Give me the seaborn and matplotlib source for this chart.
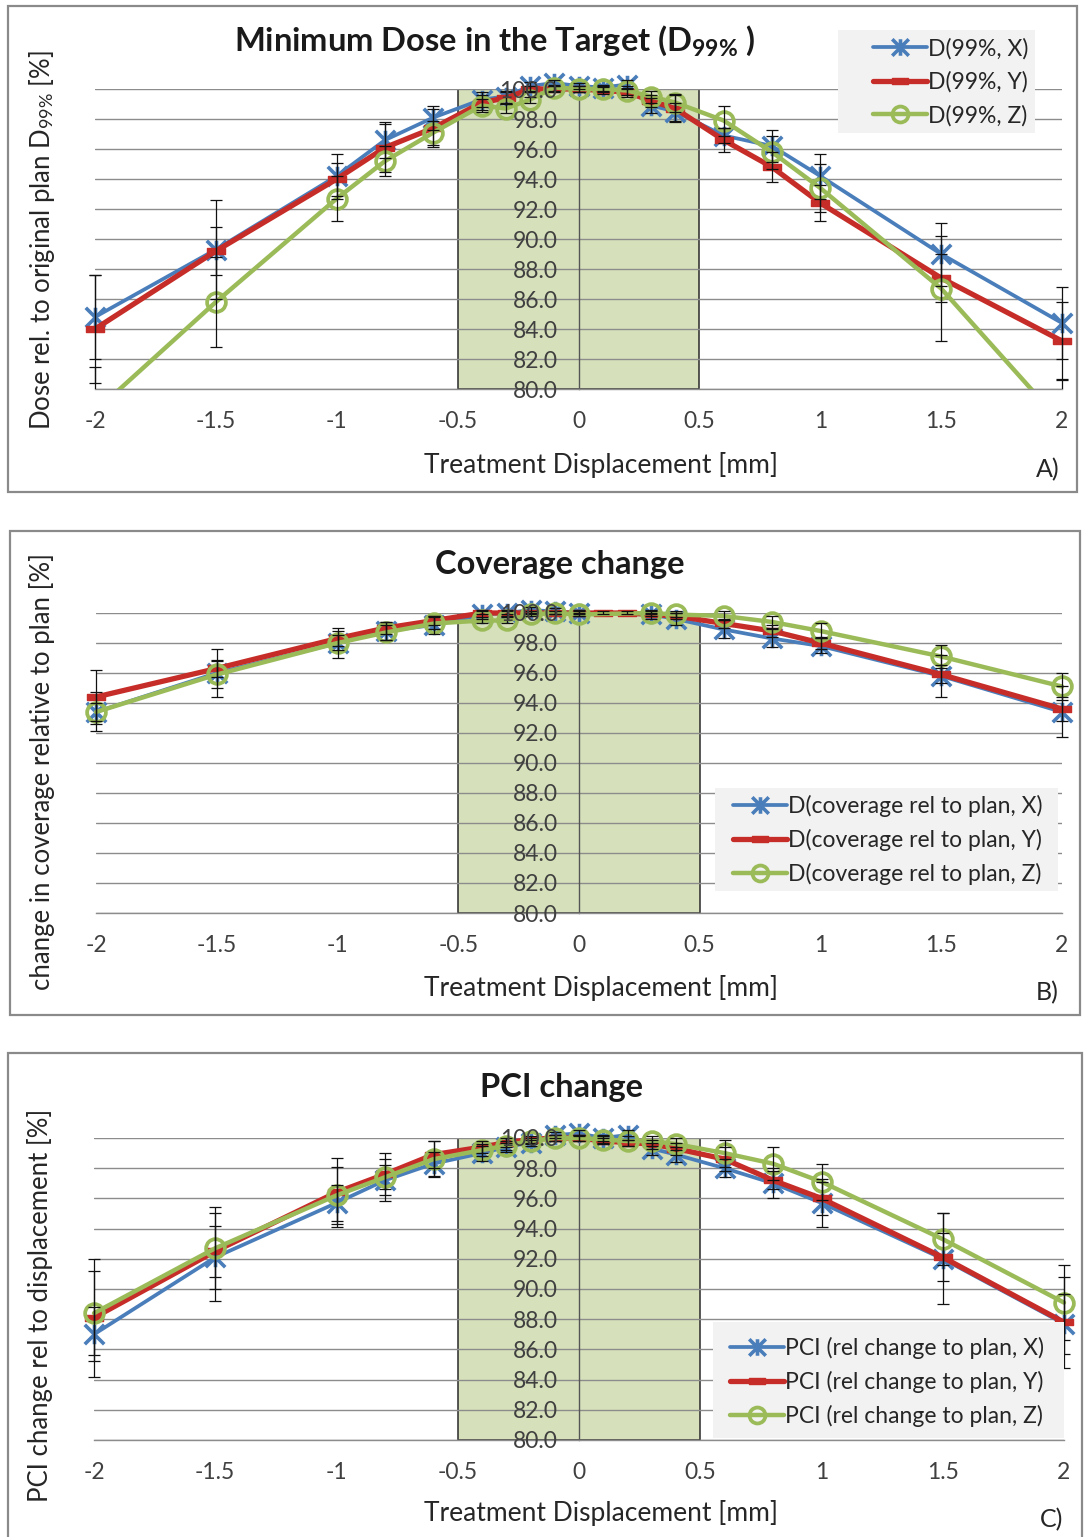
import numpy as np
import pandas as pd
import matplotlib
matplotlib.use("Agg")
import matplotlib.pyplot as plt
import seaborn as sns
from matplotlib.path import Path
from matplotlib.patches import Rectangle
from matplotlib.lines import Line2D
from matplotlib.transforms import offset_copy

# ---------------- data ----------------
displacement = [-2, -1.5, -1, -0.8, -0.6, -0.4, -0.3, -0.2, -0.1, 0, 0.1, 0.2, 0.3, 0.4, 0.6, 0.8, 1, 1.5, 2]
x_ticks = [-2, -1.5, -1, -0.5, 0, 0.5, 1, 1.5, 2]
x_tick_labels = ["-2", "-1.5", "-1", "-0.5", "0", "0.5", "1", "1.5", "2"]
y_ticks = [80, 82, 84, 86, 88, 90, 92, 94, 96, 98, 100]
y_tick_labels = ["80.0", "82.0", "84.0", "86.0", "88.0", "90.0", "92.0", "94.0", "96.0", "98.0", "100.0"]
nan = np.nan

# Panel A: D99%
a_x = [84.8, 89.3, 94.2, 96.6, 98.1, 99.3, 99.5, 100.2, 100.4, 100.2, 100.1, 100.3, 98.9, 98.5, 96.9, 96.2, 94.2, 89.0, 84.4]
a_y = [84.0, 89.2, 94.0, 96.1, 97.4, 99.1, 99.4, 100.0, 100.0, 100.0, 99.9, 99.8, 99.2, 98.7, 96.6, 94.8, 92.4, 87.4, 83.2]
a_z = [78.5, 85.8, 92.7, 95.2, 97.1, 98.9, 98.7, 99.3, 100.1, 100.0, 100.0, 99.9, 99.5, 99.1, 97.9, 95.8, 93.4, 86.7, 77.7]
a_x_err = [2.8, 3.3, 1.5, 1.2, 0.8, 0.5, 0.4, 0.3, 0.2, 0.2, 0.2, 0.3, 0.5, 0.6, 0.5, 1.1, 1.5, 2.1, 2.4]
a_y_err = [3.6, 1.6, 1.1, 1.6, 1.3, 0.5, 0.4, 0.2, 0.2, 0.2, 0.2, 0.3, 0.4, 0.9, 0.8, 1.0, 1.2, 1.6, 2.6]
a_z_err = [3.0, 3.0, 1.5, 1.0, 0.8, 0.4, 0.3, 0.2, 0.2, 0.2, 0.2, 0.3, 0.4, 0.6, 1.0, 1.1, 1.6, 3.5, 3.0]

# Panel B: coverage
b_x = [93.4, 96.0, 98.0, 98.8, 99.2, 99.9, 100.0, 100.2, 100.1, 100.0, nan, nan, 99.9, 99.6, 98.9, 98.3, 97.8, 95.8, 93.4]
b_y = [94.4, 96.3, 98.3, 99.0, 99.5, 100.0, 100.0, 100.0, 100.0, 100.0, 100.0, 100.0, 99.9, 99.8, 99.3, 98.8, 98.0, 95.9, 93.6]
b_z = [93.4, 95.9, 98.0, 98.7, 99.3, 99.5, 99.5, 99.9, 100.0, 99.9, nan, nan, 100.0, 99.9, 99.8, 99.4, 98.8, 97.1, 95.1]
b_x_err = [1.3, 1.6, 1.0, 0.6, 0.6, 0.3, 0.2, 0.2, 0.2, 0.2, nan, nan, 0.3, 0.4, 0.6, 0.6, 0.5, 1.4, 1.7]
b_y_err = [1.8, 0.6, 0.5, 0.4, 0.3, 0.1, 0.1, 0.1, 0.1, 0.1, 0.1, 0.1, 0.1, 0.2, 0.3, 0.4, 0.4, 0.6, 0.8]
b_z_err = [0.6, 0.9, 0.5, 0.5, 0.4, 0.2, 0.2, 0.1, 0.1, 0.1, nan, nan, 0.1, 0.2, 0.3, 0.4, 0.5, 0.8, 0.9]

# Panel C: PCI
c_x = [87.0, 92.1, 95.7, 97.2, 98.3, 99.0, 99.4, 99.7, 100.2, 100.3, 100.0, 100.2, 99.3, 98.9, 98.0, 97.0, 95.7, 92.0, 87.7]
c_y = [88.1, 92.5, 96.4, 97.6, 98.9, 99.4, 99.7, 99.9, 100.0, 100.0, 99.8, 99.7, 99.6, 99.3, 98.6, 97.2, 96.0, 92.1, 87.8]
c_z = [88.4, 92.7, 96.2, 97.4, 98.6, 99.2, 99.5, 99.8, 100.0, 100.0, 99.9, 99.8, 99.8, 99.6, 99.0, 98.3, 97.1, 93.3, 89.1]
c_x_err = [1.8, 2.9, 1.2, 1.0, 0.8, 0.5, 0.3, 0.2, 0.2, 0.2, 0.2, 0.3, 0.4, 0.5, 0.6, 1.0, 1.6, 3.0, 2.0]
c_y_err = [3.9, 1.7, 2.3, 1.0, 0.9, 0.4, 0.3, 0.2, 0.2, 0.2, 0.2, 0.2, 0.3, 0.4, 0.8, 0.6, 1.1, 1.6, 3.0]
c_z_err = [2.8, 2.7, 1.9, 1.6, 1.2, 0.4, 0.3, 0.2, 0.2, 0.2, 0.2, 0.3, 0.3, 0.4, 0.9, 1.1, 1.2, 1.7, 2.5]

titles = ["Minimum Dose in the Target (D$_{\\mathbf{99\\%}}$ )", "Coverage change", "PCI change"]
ylabels = ["Dose rel. to original plan D$_{99\\%}$ [%]",
           "change in coverage relative to plan [%]",
           "PCI change rel to displacement [%]"]
xlabel = "Treatment Displacement [mm]"
legend_labels = [["D(99%, X)", "D(99%, Y)", "D(99%, Z)"],
                 ["D(coverage rel to plan, X)", "D(coverage rel to plan, Y)", "D(coverage rel to plan, Z)"],
                 ["PCI (rel change to plan, X)", "PCI (rel change to plan, Y)", "PCI (rel change to plan, Z)"]]
panel_tags = ["A)", "B)", "C)"]
safe_zone = (-0.5, 0.5)

# ---------------- style ----------------
sns.set_style("white")
plt.rcParams["font.family"] = ["Lato", "DejaVu Sans"]
plt.rcParams["mathtext.fontset"] = "custom"
plt.rcParams["mathtext.rm"] = "Lato"
plt.rcParams["mathtext.it"] = "Lato:italic"
plt.rcParams["mathtext.bf"] = "Lato:bold"

W, H = 1084, 1537
fig = plt.figure(figsize=(W / 100, H / 100), dpi=100)
fig.patch.set_facecolor("white")

def fx(p):
    return p / W

def fy(p):
    return 1 - p / H

BLUE = "#4a7ebb"
RED = "#c62d28"
GREEN = "#9bbb59"
GRID = "#8c8c8c"
TXT = "#404040"

star = Path([(-1, -1), (1, 1), (-1, 1), (1, -1), (0, -1.0), (0, 1.0)],
            [Path.MOVETO, Path.LINETO, Path.MOVETO, Path.LINETO, Path.MOVETO, Path.LINETO])
bar = Path([(-1, -0.38), (1, -0.38), (1, 0.38), (-1, 0.38), (-1, -0.38)],
           [Path.MOVETO, Path.LINETO, Path.LINETO, Path.LINETO, Path.CLOSEPOLY])

series_style = [
    dict(color=BLUE, lw=2.7, marker=star, ms=14, mew=2.6, mfc="none", mec=BLUE, z=3.0),
    dict(color=RED, lw=3.8, marker=bar, ms=13, mew=1.0, mfc=RED, mec=RED, z=3.1),
    dict(color=GREEN, lw=3.2, marker="o", ms=13.5, mew=2.7, mfc="none", mec=GREEN, z=3.2),
]

# (left px, right px, top px (y=100), bottom px (y=80))
panels = [(95, 1062, 89, 389), (96, 1062, 613, 913), (94, 1064, 1138, 1440)]
data_sets = [
    ([a_x, a_y, a_z], [a_x_err, a_y_err, a_z_err]),
    ([b_x, b_y, b_z], [b_x_err, b_y_err, b_z_err]),
    ([c_x, c_y, c_z], [c_x_err, c_y_err, c_z_err]),
]
borders = [(8, 6, 1077, 492), (10, 531, 1080, 1015), (8, 1053, 1082, 1560)]
title_pos = [(495, 41), (560, 565), (561, 1088)]
ylabel_pos = [(42, 240), (42, 772), (40, 1305)]
xlabel_pos = [(601, 465), (601, 988), (601, 1513)]
tag_pos = [(1048, 470), (1047, 993), (1052, 1520)]
# legend background boxes (x0, y0, x1, y1) and handle anchor (x, middle-row y)
legend_boxes = [(838, 30, 1035, 133), (715, 788, 1058, 891), (713, 1322, 1064, 1438)]
legend_anchor = [(873, 82), (733, 840), (730, 1382)]

for i, (l, r, t, b) in enumerate(panels):
    # panel frame
    x0, y0, x1, y1 = borders[i]
    fig.patches.append(Rectangle((fx(x0), fy(y1)), (x1 - x0) / W, (y1 - y0) / H,
                                 transform=fig.transFigure, fill=False,
                                 edgecolor="#8a8a8a", lw=1.6, zorder=0))

    ax = fig.add_axes([fx(l), fy(b), (r - l) / W, (b - t) / H])
    ax.set_facecolor("none")
    ax.set_xlim(-2, 2)
    ax.set_ylim(80, 100)

    ax.add_patch(Rectangle((safe_zone[0], 80), safe_zone[1] - safe_zone[0], 20,
                           facecolor="#d6e1bb", edgecolor="#2a2a2a", lw=1.1, zorder=0.3))

    for sp in ["top", "right"]:
        ax.spines[sp].set_visible(False)
    ax.spines["left"].set_position(("data", 0))
    ax.spines["left"].set_color("#555555")
    ax.spines["left"].set_linewidth(1.0)
    ax.spines["left"].set_zorder(0.6)
    ax.spines["bottom"].set_color(GRID)
    ax.spines["bottom"].set_linewidth(1.0)

    ax.set_yticks(y_ticks)
    ax.set_xticks(x_ticks)
    ax.set_xticklabels(x_tick_labels)
    ax.tick_params(axis="y", length=0, labelleft=False)
    ax.tick_params(axis="x", length=7, width=1, color=GRID, pad=9,
                   labelsize=16.5, labelcolor=TXT, direction="out")
    ax.yaxis.grid(True, color=GRID, lw=1.0)
    ax.xaxis.grid(False)
    ax.set_axisbelow(True)

    # y tick labels at the axis crossing (x = 0), drawn above the series as in Excel
    lab_tr = offset_copy(ax.transData, fig=fig, x=-21, y=0, units="dots")
    for v, s in zip(y_ticks, y_tick_labels):
        ax.text(0, v, s, transform=lab_tr, ha="right", va="center_baseline",
                fontsize=16.5, color=TXT, zorder=7)

    clip = Rectangle((-0.04, 0), 1.08, 1.2, transform=ax.transAxes)

    vals_list, errs_list = data_sets[i]
    for vals, st in zip(vals_list, series_style):
        df = pd.DataFrame({"disp": displacement, "val": vals}).dropna()
        n_before = len(ax.lines)
        sns.lineplot(data=df, x="disp", y="val", ax=ax, color=st["color"],
                     linewidth=st["lw"], marker=st["marker"], markersize=st["ms"],
                     markeredgewidth=st["mew"], markerfacecolor=st["mfc"],
                     markeredgecolor=st["mec"], errorbar=None, legend=False,
                     zorder=st["z"])
        for ln in ax.lines[n_before:]:
            ln.set_clip_path(clip)
            ln.set_solid_joinstyle("round")

    for vals, errs in zip(vals_list, errs_list):
        df = pd.DataFrame({"disp": displacement, "val": vals, "err": errs}).dropna()
        cont = ax.errorbar(df["disp"], df["val"], yerr=df["err"], fmt="none",
                           ecolor="#111111", elinewidth=0.9, capsize=4,
                           capthick=0.9, zorder=5)
        for cap in cont.lines[1]:
            cap.set_clip_path(clip)
        for col in cont.lines[2]:
            col.set_clip_path(clip)

    ax.set_xlabel("")
    ax.set_ylabel("")

    # legend background
    bx0, by0, bx1, by1 = legend_boxes[i]
    ax.add_patch(Rectangle((fx(bx0), fy(by1)), (bx1 - bx0) / W, (by1 - by0) / H,
                           transform=fig.transFigure, facecolor="#f2f2f2",
                           edgecolor="none", zorder=5.5, clip_on=False))

    handles = [Line2D([], [], color=st["color"], lw=st["lw"], marker=st["marker"],
                      markersize=st["ms"] * 0.85, markeredgewidth=st["mew"],
                      markerfacecolor=st["mfc"], markeredgecolor=st["mec"])
               for st in series_style]
    hx, hy = legend_anchor[i]
    leg = ax.legend(handles, legend_labels[i], loc="center left",
                    bbox_to_anchor=(fx(hx), fy(hy)), bbox_transform=fig.transFigure,
                    frameon=False, fontsize=16.5, handlelength=2.35,
                    handletextpad=0.05, labelspacing=0.52, borderpad=0,
                    borderaxespad=0)
    for txt in leg.get_texts():
        txt.set_color("#262626")
    leg.set_zorder(8)

    # texts
    fig.text(fx(title_pos[i][0]), fy(title_pos[i][1]), titles[i], ha="center",
             va="center", fontsize=23.5, fontweight="bold", color="#1a1a1a")
    fig.text(fx(ylabel_pos[i][0]), fy(ylabel_pos[i][1]), ylabels[i], ha="center",
             va="center", rotation=90, fontsize=18.5, color="#262626")
    fig.text(fx(xlabel_pos[i][0]), fy(xlabel_pos[i][1]), xlabel, ha="center",
             va="center", fontsize=19, color="#262626")
    fig.text(fx(tag_pos[i][0]), fy(tag_pos[i][1]), panel_tags[i], ha="center",
             va="center", fontsize=18, color="#262626")

fig.savefig("out.png", dpi=100, facecolor="white")
